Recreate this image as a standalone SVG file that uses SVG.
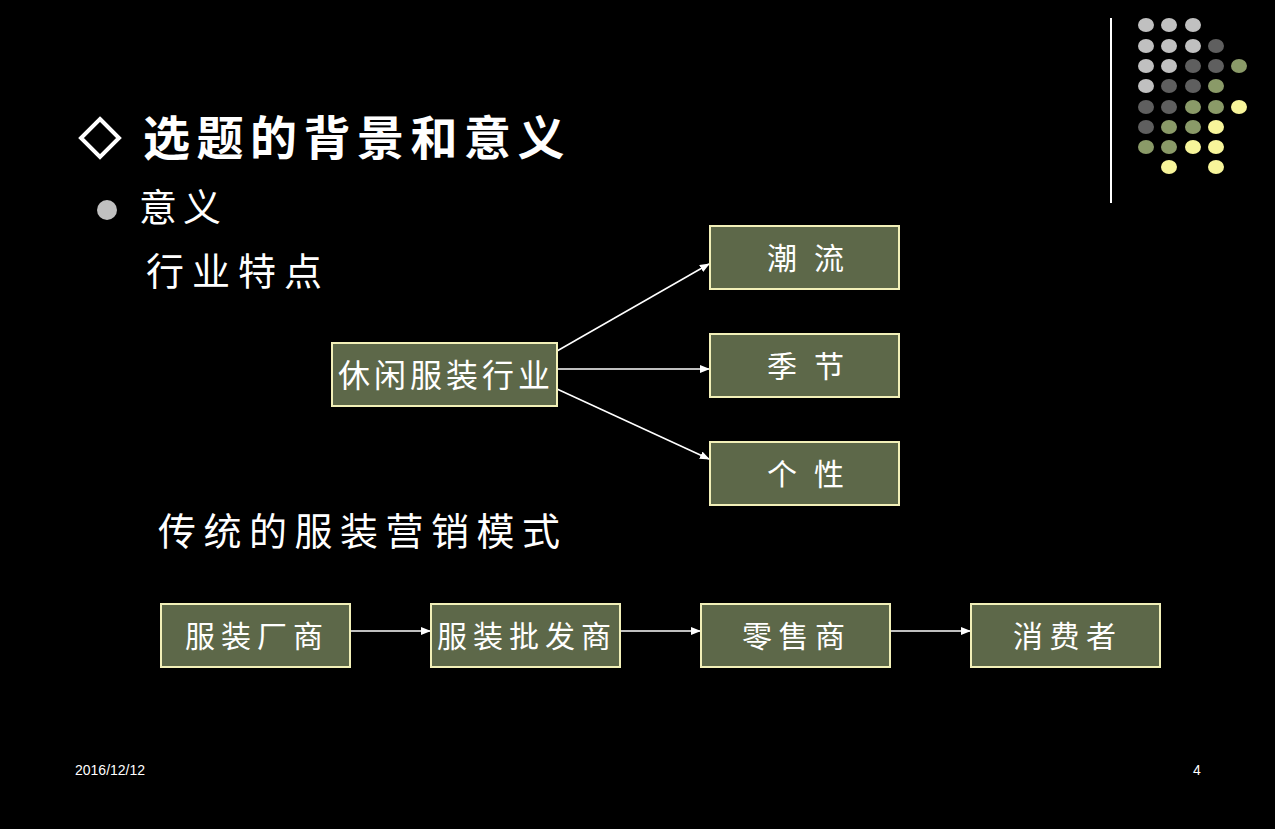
<svg xmlns="http://www.w3.org/2000/svg" width="1275" height="829" viewBox="0 0 1275 829">
<defs>
<marker id="ah" markerWidth="10" markerHeight="8" refX="9" refY="4" orient="auto" markerUnits="userSpaceOnUse">
<path d="M0,0 L10,4 L0,8 z" fill="#ffffff"/>
</marker>
<style>
.box{fill:#5d6849;stroke:#f2f0b8;stroke-width:2}
.bt{font-family:"Noto Sans CJK SC","Noto Sans",sans-serif;font-size:30px;fill:#ffffff}
.tx{font-family:"Noto Sans CJK SC","Noto Sans",sans-serif;fill:#ffffff}
.conn{stroke:#ffffff;stroke-width:1.5;fill:none;marker-end:url(#ah)}
.lg{fill:#c0c0c0}.dg{fill:#5f5f5f}.gr{fill:#8a9a68}.ye{fill:#f7f59a}
.ft{font-family:"Liberation Sans",Arial,sans-serif;font-size:14px;fill:#ffffff}
</style>
</defs>
<rect width="1275" height="829" fill="#000000"/>
<g id="decor">
<line x1="1111" y1="18" x2="1111" y2="203" stroke="#ffffff" stroke-width="2"/>
<g>
<ellipse class="lg" cx="1146" cy="25" rx="8" ry="7"/><ellipse class="lg" cx="1169" cy="25" rx="8" ry="7"/><ellipse class="lg" cx="1193" cy="25" rx="8" ry="7"/>
<ellipse class="lg" cx="1146" cy="46" rx="8" ry="7"/><ellipse class="lg" cx="1169" cy="46" rx="8" ry="7"/><ellipse class="lg" cx="1193" cy="46" rx="8" ry="7"/><ellipse class="dg" cx="1216" cy="46" rx="8" ry="7"/>
<ellipse class="lg" cx="1146" cy="66" rx="8" ry="7"/><ellipse class="lg" cx="1169" cy="66" rx="8" ry="7"/><ellipse class="dg" cx="1193" cy="66" rx="8" ry="7"/><ellipse class="dg" cx="1216" cy="66" rx="8" ry="7"/><ellipse class="gr" cx="1239" cy="66" rx="8" ry="7"/>
<ellipse class="lg" cx="1146" cy="86" rx="8" ry="7"/><ellipse class="dg" cx="1169" cy="86" rx="8" ry="7"/><ellipse class="dg" cx="1193" cy="86" rx="8" ry="7"/><ellipse class="gr" cx="1216" cy="86" rx="8" ry="7"/>
<ellipse class="dg" cx="1146" cy="107" rx="8" ry="7"/><ellipse class="dg" cx="1169" cy="107" rx="8" ry="7"/><ellipse class="gr" cx="1193" cy="107" rx="8" ry="7"/><ellipse class="gr" cx="1216" cy="107" rx="8" ry="7"/><ellipse class="ye" cx="1239" cy="107" rx="8" ry="7"/>
<ellipse class="dg" cx="1146" cy="127" rx="8" ry="7"/><ellipse class="gr" cx="1169" cy="127" rx="8" ry="7"/><ellipse class="gr" cx="1193" cy="127" rx="8" ry="7"/><ellipse class="ye" cx="1216" cy="127" rx="8" ry="7"/>
<ellipse class="gr" cx="1146" cy="147" rx="8" ry="7"/><ellipse class="gr" cx="1169" cy="147" rx="8" ry="7"/><ellipse class="ye" cx="1193" cy="147" rx="8" ry="7"/><ellipse class="ye" cx="1216" cy="147" rx="8" ry="7"/>
<ellipse class="ye" cx="1169" cy="167" rx="8" ry="7"/><ellipse class="ye" cx="1216" cy="167" rx="8" ry="7"/>
</g>
</g>
<g id="title">
<path d="M100,119 L119,138 L100,157 L81,138 Z" fill="none" stroke="#ffffff" stroke-width="4"/>
<text class="tx" x="143" y="155" font-size="47" font-weight="bold" letter-spacing="6.5">选题的背景和意义</text>
</g>
<g id="bullet">
<circle cx="107" cy="210" r="10" fill="#c0c0c0"/>
<text class="tx" x="139" y="221" font-size="38" letter-spacing="6">意义</text>
</g>
<g id="heading1"><text class="tx" x="146" y="285" font-size="38" letter-spacing="8">行业特点</text></g>
<g id="heading2"><text class="tx" x="158" y="545" font-size="38" letter-spacing="7.5">传统的服装营销模式</text></g>
<g id="connectors">
<line class="conn" x1="557" y1="351" x2="709" y2="264"/>
<line class="conn" x1="557" y1="369" x2="709" y2="369"/>
<line class="conn" x1="557" y1="389" x2="709" y2="459"/>
<line class="conn" x1="350" y1="631" x2="430" y2="631"/>
<line class="conn" x1="620" y1="631" x2="700" y2="631"/>
<line class="conn" x1="890" y1="631" x2="970" y2="631"/>
</g>
<g id="n-xiuxian"><rect class="box" x="332" y="343" width="225" height="63"/><text class="bt" x="338" y="387" style="font-size:32px;letter-spacing:4px">休闲服装行业</text></g>
<g id="n-chaoliu"><rect class="box" x="710" y="226" width="189" height="63"/><text class="bt" x="767" y="269" style="letter-spacing:17px">潮流</text></g>
<g id="n-jijie"><rect class="box" x="710" y="334" width="189" height="63"/><text class="bt" x="767" y="377" style="letter-spacing:17px">季节</text></g>
<g id="n-gexing"><rect class="box" x="710" y="442" width="189" height="63"/><text class="bt" x="767" y="485" style="letter-spacing:17px">个性</text></g>
<g id="n-changshang"><rect class="box" x="161" y="604" width="189" height="63"/><text class="bt" x="185" y="647" style="letter-spacing:6px">服装厂商</text></g>
<g id="n-pifa"><rect class="box" x="431" y="604" width="189" height="63"/><text class="bt" x="437" y="647" style="letter-spacing:6px">服装批发商</text></g>
<g id="n-lingshou"><rect class="box" x="701" y="604" width="189" height="63"/><text class="bt" x="742" y="647" style="letter-spacing:6.5px">零售商</text></g>
<g id="n-xiaofei"><rect class="box" x="971" y="604" width="189" height="63"/><text class="bt" x="1013" y="647" style="letter-spacing:6.5px">消费者</text></g>
<g id="footer">
<text class="ft" x="75" y="775">2016/12/12</text>
<text class="ft" x="1193" y="775">4</text>
</g>
</svg>
